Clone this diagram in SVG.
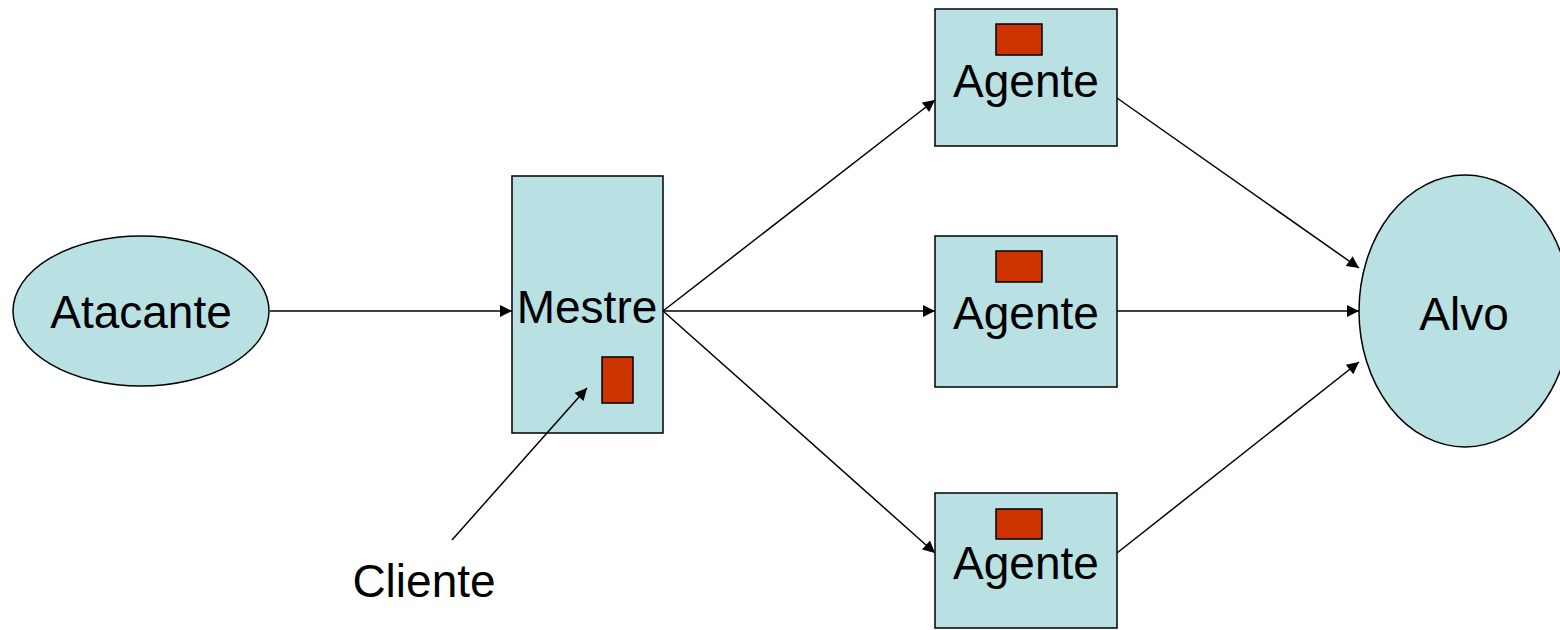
<svg xmlns="http://www.w3.org/2000/svg" width="1560" height="630" viewBox="0 0 1560 630">
  <style>
    .node { fill: #b9e0e3; stroke: #000; stroke-width: 1.5; }
    .chip { fill: #cc3300; stroke: #000; stroke-width: 1.5; }
    .label { font-family: "Liberation Sans", Arial, sans-serif; font-size: 46px; fill: #000; text-anchor: middle; }
    .edge { stroke: #000; stroke-width: 1.5; fill: none; marker-end: url(#arrow); }
  </style>
  <defs>
    <marker id="arrow" viewBox="0 0 10 10" refX="10" refY="5" markerWidth="16" markerHeight="12" markerUnits="userSpaceOnUse" orient="auto">
      <path d="M0,0 L10,5 L0,10 z" fill="#000"/>
    </marker>
  </defs>

  <g id="atacante">
    <ellipse class="node" cx="141" cy="311" rx="128" ry="75"/>
    <text class="label" x="141" y="328">Atacante</text>
  </g>

  <g id="mestre">
    <rect class="node" x="512" y="176" width="151" height="257"/>
    <text class="label" x="587" y="323">Mestre</text>
    <rect class="chip" x="602" y="357" width="31" height="46"/>
  </g>

  <g id="agente-1">
    <rect class="node" x="935" y="9" width="182" height="137"/>
    <rect class="chip" x="996" y="24" width="46" height="31"/>
    <text class="label" x="1026" y="97">Agente</text>
  </g>

  <g id="agente-2">
    <rect class="node" x="935" y="236" width="182" height="151"/>
    <rect class="chip" x="996" y="251" width="46" height="31"/>
    <text class="label" x="1026" y="329">Agente</text>
  </g>

  <g id="agente-3">
    <rect class="node" x="935" y="493" width="182" height="135"/>
    <rect class="chip" x="996" y="509" width="46" height="30"/>
    <text class="label" x="1026" y="579">Agente</text>
  </g>

  <g id="alvo">
    <ellipse class="node" cx="1465" cy="311" rx="106" ry="136"/>
    <text class="label" x="1464" y="330">Alvo</text>
  </g>

  <g id="cliente">
    <text class="label" x="424" y="597">Cliente</text>
  </g>

  <g id="connectors">
    <line class="edge" x1="270" y1="311" x2="512" y2="311"/>
    <line class="edge" x1="663" y1="311" x2="935" y2="100"/>
    <line class="edge" x1="663" y1="311" x2="935" y2="311"/>
    <line class="edge" x1="663" y1="311" x2="935" y2="553"/>
    <line class="edge" x1="1117" y1="98" x2="1359" y2="268"/>
    <line class="edge" x1="1117" y1="311" x2="1359" y2="311"/>
    <line class="edge" x1="1117" y1="553" x2="1359" y2="362"/>
    <line class="edge" x1="452" y1="540" x2="587" y2="388"/>
  </g>
</svg>
